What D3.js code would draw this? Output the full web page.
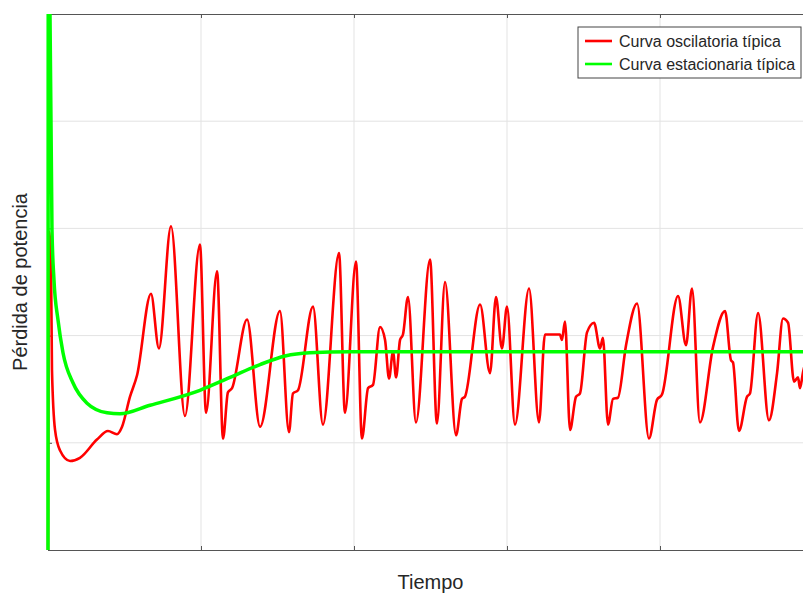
<!DOCTYPE html>
<html>
<head>
<meta charset="utf-8">
<script src="https://d3js.org/d3.v7.min.js"></script>
<style>
  body { margin: 0; background: #fff; font-family: "Liberation Sans", Arial, sans-serif; }
</style>
</head>
<body>
<div id="chart"></div>
<script>
// time / value pairs (axis units: time 0..50, loss 0..5)
const redT = [0, 0.07, 0.2, 0.26, 0.46, 0.78, 1.44, 2.09, 3.2, 3.92, 4.51, 4.84, 5.36, 5.82,
  6.73, 7.25, 8.04, 8.95, 9.93, 10.33, 11.05, 11.44, 11.76, 12.03, 13.01, 13.86, 15.16, 15.75,
  16.01, 16.34, 17.32, 17.97, 19.02, 19.41, 20.13, 20.52, 20.92, 21.24, 21.7, 22.03, 22.29,
  22.55, 22.75, 23.01, 23.2, 23.53, 24.05, 24.97, 25.42, 25.95, 26.67, 27.06, 27.25, 28.24,
  28.89, 29.28, 29.67, 30.0, 30.52, 31.44, 32.09, 32.48, 33.46, 33.59, 33.79, 34.12, 34.51,
  34.77, 35.23, 35.69, 36.08, 36.27, 36.6, 36.93, 37.25, 37.78, 38.5, 39.28, 39.8, 40.13,
  41.18, 41.7, 42.09, 42.61, 43.46, 44.25, 44.64, 44.77, 45.16, 45.69, 45.88, 46.41, 47.12,
  47.65, 48.04, 48.37, 48.76, 49.02, 49.15, 49.35, 49.7];
const redV = [0, 2.97, 2.61, 1.68, 1.12, 0.93, 0.83, 0.86, 1.03, 1.11, 1.08, 1.15, 1.43, 1.63,
  2.39, 1.88, 3.02, 1.25, 2.85, 1.28, 2.6, 1.04, 1.47, 1.51, 2.15, 1.15, 2.23, 1.1,
  1.46, 1.49, 2.27, 1.17, 2.77, 1.28, 2.69, 1.04, 1.51, 1.54, 2.08, 1.96, 1.6,
  1.85, 1.61, 1.96, 2.01, 2.36, 1.19, 2.71, 1.18, 2.5, 1.07, 1.41, 1.43, 2.29,
  1.65, 2.36, 1.88, 2.27, 1.17, 2.44, 1.19, 2.01, 2.01, 1.96, 2.13, 1.12, 1.43,
  1.46, 2.03, 2.12, 1.88, 1.98, 1.17, 1.41, 1.42, 1.91, 2.3, 1.04, 1.4, 1.45,
  2.37, 1.91, 2.44, 1.19, 1.89, 2.23, 1.77, 1.75, 1.11, 1.43, 1.46, 2.21, 1.21,
  1.65, 2.16, 2.12, 1.57, 1.61, 1.51, 1.66, 1.85];

const greenT = [0, 0.03, 0.13, 0.26, 0.39, 0.65, 0.98, 1.63, 2.55, 3.86, 4.7, 6.67, 9.93,
  11.9, 13.86, 15.5, 17.1, 19.7, 25, 30, 40, 50];
const greenV = [0, 8, 5, 2.99, 2.52, 2.15, 1.84, 1.56, 1.37, 1.28, 1.27, 1.35, 1.49,
  1.61, 1.73, 1.81, 1.84, 1.85, 1.85, 1.85, 1.85, 1.85];

const xTicks = [0, 10, 20, 30, 40, 50];
const yTicks = [0, 1, 2, 3, 4, 5];
const seriesNames = ['Curva oscilatoria típica', 'Curva estacionaria típica'];
const seriesColors = ['#ff0000', '#00ff00'];

const W = 803, H = 593;
const margin = { top: 14, right: -10, bottom: 43, left: 48 };

const svg = d3.select('#chart').append('svg')
  .attr('width', W)
  .attr('height', H);

const x = d3.scaleLinear().domain([0, 50]).range([margin.left, W - margin.right]);
const y = d3.scaleLinear().domain([0, 5]).range([H - margin.bottom, margin.top]);

svg.append('clipPath').attr('id', 'clip')
  .append('rect')
  .attr('x', x(0) - 2).attr('y', y(5))
  .attr('width', x(50) - x(0) + 2).attr('height', y(0) - y(5));

// grid
svg.append('g').selectAll('line')
  .data(xTicks.slice(1, -1))
  .join('line')
  .attr('x1', d => x(d)).attr('x2', d => x(d))
  .attr('y1', y(0)).attr('y2', y(5))
  .attr('stroke', '#e3e3e3').attr('stroke-width', 1);
svg.append('g').selectAll('line')
  .data(yTicks.slice(1, -1))
  .join('line')
  .attr('x1', x(0)).attr('x2', x(50))
  .attr('y1', d => y(d)).attr('y2', d => y(d))
  .attr('stroke', '#e3e3e3').attr('stroke-width', 1);

// axes with inward ticks and no labels
svg.append('g')
  .attr('transform', `translate(0,${y(0)})`)
  .call(d3.axisBottom(x).tickValues(xTicks).tickSize(-4).tickFormat(''));
svg.append('g')
  .attr('transform', `translate(0,${y(5)})`)
  .call(d3.axisTop(x).tickValues(xTicks).tickSize(-4).tickFormat(''));
svg.append('g')
  .attr('transform', `translate(${x(0)},0)`)
  .call(d3.axisLeft(y).tickValues(yTicks).tickSize(-4).tickFormat(''));
svg.selectAll('.domain, .tick line').attr('stroke', '#555');

const line = d3.line()
  .x(d => x(d[0]))
  .y(d => y(d[1]))
  .curve(d3.curveMonotoneX);

const plot = svg.append('g').attr('clip-path', 'url(#clip)');
plot.append('path')
  .datum(d3.zip(redT, redV))
  .attr('d', line)
  .attr('fill', 'none')
  .attr('stroke', seriesColors[0])
  .attr('stroke-width', 2.6)
  .attr('stroke-linejoin', 'round');
plot.append('path')
  .datum(d3.zip(greenT, greenV))
  .attr('d', line)
  .attr('fill', 'none')
  .attr('stroke', seriesColors[1])
  .attr('stroke-width', 3.5)
  .attr('stroke-linejoin', 'round');

// axis titles
svg.append('text')
  .attr('x', (x(0) + x(50)) / 2)
  .attr('y', 589)
  .attr('text-anchor', 'middle')
  .attr('font-size', 20)
  .attr('fill', '#262626')
  .text('Tiempo');
svg.append('text')
  .attr('transform', `translate(27,${(y(0) + y(5)) / 2}) rotate(-90)`)
  .attr('text-anchor', 'middle')
  .attr('font-size', 20)
  .attr('fill', '#262626')
  .text('Pérdida de potencia');

// legend
const legend = svg.append('g').attr('transform', 'translate(578,27)');
legend.append('rect')
  .attr('width', 223).attr('height', 51)
  .attr('fill', '#fff').attr('stroke', '#444').attr('stroke-width', 1);
seriesNames.forEach((name, i) => {
  const row = legend.append('g').attr('transform', `translate(0,${14 + i * 23})`);
  row.append('line')
    .attr('x1', 7).attr('x2', 34)
    .attr('stroke', seriesColors[i]).attr('stroke-width', 2.6);
  row.append('text')
    .attr('x', 41).attr('y', 5.5)
    .attr('font-size', 16)
    .attr('fill', '#262626')
    .text(name);
});
</script>
</body>
</html>
